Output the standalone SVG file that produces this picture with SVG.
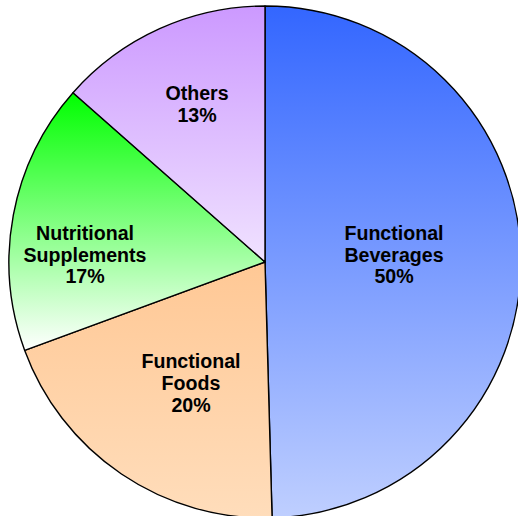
<svg xmlns="http://www.w3.org/2000/svg" width="518" height="516" viewBox="0 0 518 516">
<defs>
<linearGradient id="gBev" x1="0" y1="0" x2="0" y2="1"><stop offset="0" stop-color="#3366FF"/><stop offset="1" stop-color="#BFCFFF"/></linearGradient>
<linearGradient id="gFood" x1="0" y1="0" x2="0" y2="1"><stop offset="0" stop-color="#FFC895"/><stop offset="1" stop-color="#FFDDBB"/></linearGradient>
<linearGradient id="gSup" x1="0" y1="0" x2="0" y2="1"><stop offset="0" stop-color="#00FF00"/><stop offset="1" stop-color="#FFFFFF"/></linearGradient>
<linearGradient id="gOth" x1="0" y1="0" x2="0" y2="1"><stop offset="0" stop-color="#CC99FF"/><stop offset="1" stop-color="#F0E2FF"/></linearGradient>
</defs>
<style>
.slice{stroke:#000;stroke-width:1.4;stroke-linejoin:round}
.lbl{font-family:"Liberation Sans",Arial,sans-serif;font-weight:bold;font-size:19.6px;fill:#000;text-anchor:middle}
</style>
<rect width="518" height="516" fill="#FFFFFF"/>
<g id="beverages">
<path class="slice" fill="url(#gBev)" d="M265,262 L265,6 A256,256 0 0 1 272.1,517.9 Z"/>
<text class="lbl" x="394" y="240">Functional</text>
<text class="lbl" x="394" y="262">Beverages</text>
<text class="lbl" x="394" y="283">50%</text>
</g>
<g id="foods">
<path class="slice" fill="url(#gFood)" d="M265,262 L272.1,517.9 A256,256 0 0 1 24.7,350.4 Z"/>
<text class="lbl" x="191" y="368">Functional</text>
<text class="lbl" x="191" y="390">Foods</text>
<text class="lbl" x="191" y="412">20%</text>
</g>
<g id="supplements">
<path class="slice" fill="url(#gSup)" d="M265,262 L24.7,350.4 A256,256 0 0 1 73,92.7 Z"/>
<text class="lbl" x="85" y="240">Nutritional</text>
<text class="lbl" x="85" y="262">Supplements</text>
<text class="lbl" x="85" y="283">17%</text>
</g>
<g id="others">
<path class="slice" fill="url(#gOth)" d="M265,262 L73,92.7 A256,256 0 0 1 265,6 Z"/>
<text class="lbl" x="197" y="100">Others</text>
<text class="lbl" x="197" y="122">13%</text>
</g>
<g id="connectors"></g>
</svg>
